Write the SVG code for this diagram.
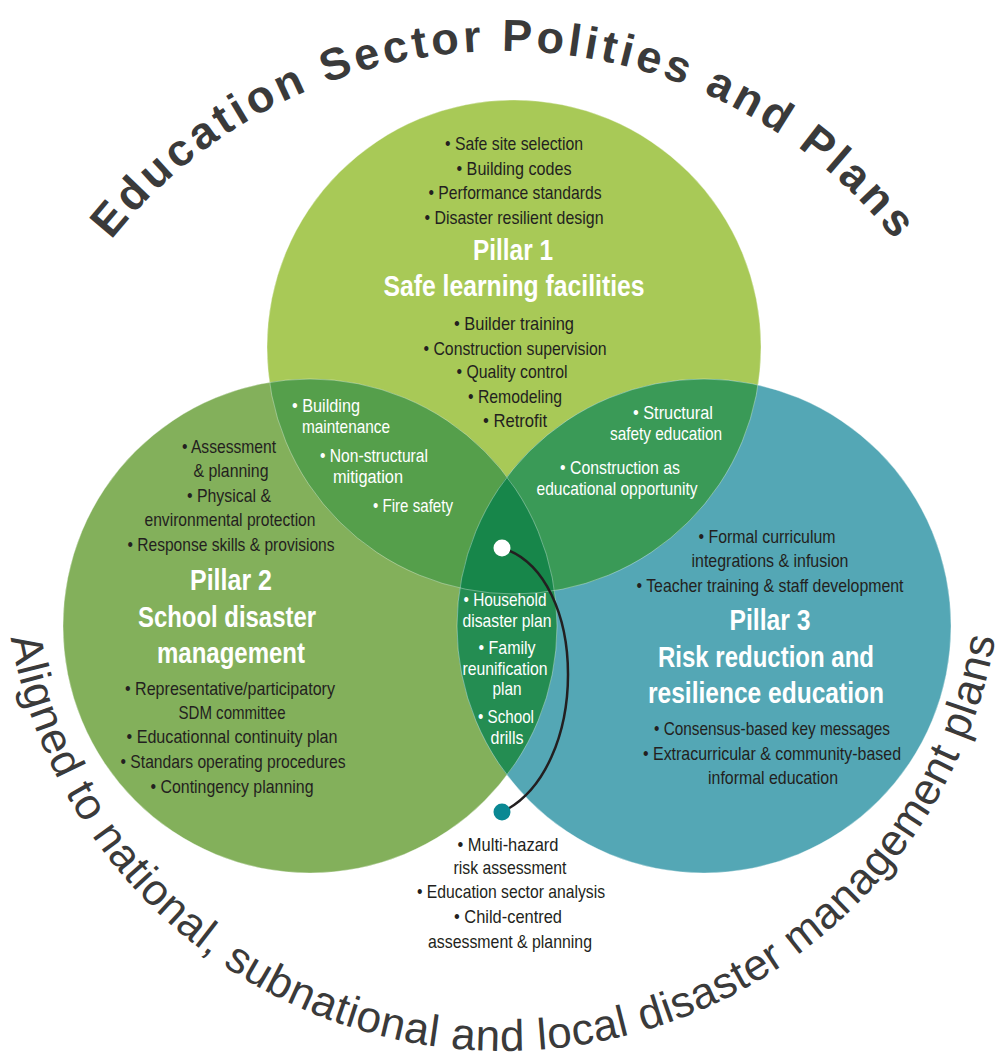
<svg xmlns="http://www.w3.org/2000/svg" width="1000" height="1055" viewBox="0 0 1000 1055">
<style>
.t{font-family:"Liberation Sans",Arial,sans-serif;font-size:19px;text-anchor:middle}
.d{fill:#231f20}
.w{fill:#ffffff}
.h{font-family:"Liberation Sans",Arial,sans-serif;font-size:30px;font-weight:bold;fill:#ffffff;text-anchor:middle}
.edge{fill:none;stroke:#ffffff;stroke-opacity:0.35;stroke-width:1}
.arcT{font-family:"Liberation Sans",Arial,sans-serif;font-weight:bold;font-size:45px;fill:#3a3a3a}
.arcB{font-family:"Liberation Sans",Arial,sans-serif;font-size:44px;fill:#3a3a3a}
</style>
<defs>
<clipPath id="c1"><circle cx="514" cy="347" r="247"/></clipPath>
<clipPath id="c2"><circle cx="310" cy="626" r="247"/></clipPath>
<clipPath id="c3"><circle cx="704" cy="626" r="247"/></clipPath>
<path id="topArc" d="M 3 551 A 500 500 0 0 1 1003 551"/>
<path id="botArc" d="M 53 333 A 500 500 0 1 0 953 333"/>
</defs>

<g id="circles">
<circle cx="514" cy="347" r="247" fill="#a8c957"/>
<circle cx="310" cy="626" r="247" fill="#83b05b"/>
<circle cx="704" cy="626" r="247" fill="#54a7b5"/>
<circle cx="310" cy="626" r="247" fill="#559f4b" clip-path="url(#c1)"/>
<circle cx="704" cy="626" r="247" fill="#3a9a57" clip-path="url(#c1)"/>
<circle cx="704" cy="626" r="247" fill="#248d52" clip-path="url(#c2)"/>
<g clip-path="url(#c1)"><circle cx="704" cy="626" r="247" fill="#17864a" clip-path="url(#c2)"/></g>
<circle class="edge" cx="514" cy="347" r="247"/>
<circle class="edge" cx="310" cy="626" r="247"/>
<circle class="edge" cx="704" cy="626" r="247"/>
</g>

<g id="title-top">
<text class="arcT"><textPath href="#topArc" startOffset="50%" text-anchor="middle" textLength="900" lengthAdjust="spacing">Education Sector Polities and Plans</textPath></text>
</g>
<g id="title-bottom">
<text class="arcB"><textPath href="#botArc" startOffset="50%" text-anchor="middle" textLength="1396" lengthAdjust="spacing">Aligned to national, subnational and local disaster management plans</textPath></text>
</g>

<g id="pillar1">
<text class="t d" x="514" y="150" textLength="138" lengthAdjust="spacingAndGlyphs">• Safe site selection</text>
<text class="t d" x="514" y="175" textLength="115" lengthAdjust="spacingAndGlyphs">• Building codes</text>
<text class="t d" x="515" y="199" textLength="173" lengthAdjust="spacingAndGlyphs">• Performance standards</text>
<text class="t d" x="514" y="224" textLength="179" lengthAdjust="spacingAndGlyphs">• Disaster resilient design</text>
<text class="h" x="513" y="260" textLength="80" lengthAdjust="spacingAndGlyphs">Pillar 1</text>
<text class="h" x="514" y="296" textLength="261" lengthAdjust="spacingAndGlyphs">Safe learning facilities</text>
<text class="t d" x="514" y="330" textLength="120" lengthAdjust="spacingAndGlyphs">• Builder training</text>
<text class="t d" x="515" y="355" textLength="183" lengthAdjust="spacingAndGlyphs">• Construction supervision</text>
<text class="t d" x="512" y="378" textLength="111" lengthAdjust="spacingAndGlyphs">• Quality control</text>
<text class="t d" x="515" y="403" textLength="94" lengthAdjust="spacingAndGlyphs">• Remodeling</text>
<text class="t d" x="515" y="427" textLength="64" lengthAdjust="spacingAndGlyphs">• Retrofit</text>
</g>

<g id="pillar2">
<text class="t d" x="229" y="453" textLength="94" lengthAdjust="spacingAndGlyphs">• Assessment</text>
<text class="t d" x="231" y="477" textLength="75" lengthAdjust="spacingAndGlyphs">&amp; planning</text>
<text class="t d" x="229" y="502" textLength="84" lengthAdjust="spacingAndGlyphs">• Physical &amp;</text>
<text class="t d" x="230" y="526" textLength="171" lengthAdjust="spacingAndGlyphs">environmental protection</text>
<text class="t d" x="231" y="551" textLength="207" lengthAdjust="spacingAndGlyphs">• Response skills &amp; provisions</text>
<text class="h" x="231" y="590" textLength="82" lengthAdjust="spacingAndGlyphs">Pillar 2</text>
<text class="h" x="227" y="627" textLength="178" lengthAdjust="spacingAndGlyphs">School disaster</text>
<text class="h" x="231" y="663" textLength="148" lengthAdjust="spacingAndGlyphs">management</text>
<text class="t d" x="230" y="695" textLength="210" lengthAdjust="spacingAndGlyphs">• Representative/participatory</text>
<text class="t d" x="232" y="719" textLength="107" lengthAdjust="spacingAndGlyphs">SDM committee</text>
<text class="t d" x="232" y="743" textLength="211" lengthAdjust="spacingAndGlyphs">• Educationnal continuity plan</text>
<text class="t d" x="233" y="768" textLength="225" lengthAdjust="spacingAndGlyphs">• Standars operating procedures</text>
<text class="t d" x="232" y="793" textLength="163" lengthAdjust="spacingAndGlyphs">• Contingency planning</text>
</g>

<g id="pillar3">
<text class="t d" x="767" y="543" textLength="137" lengthAdjust="spacingAndGlyphs">• Formal curriculum</text>
<text class="t d" x="770" y="567" textLength="157" lengthAdjust="spacingAndGlyphs">integrations &amp; infusion</text>
<text class="t d" x="770" y="592" textLength="267" lengthAdjust="spacingAndGlyphs">• Teacher training &amp; staff development</text>
<text class="h" x="770" y="630" textLength="81" lengthAdjust="spacingAndGlyphs">Pillar 3</text>
<text class="h" x="766" y="667" textLength="216" lengthAdjust="spacingAndGlyphs">Risk reduction and</text>
<text class="h" x="766" y="703" textLength="236" lengthAdjust="spacingAndGlyphs">resilience education</text>
<text class="t d" x="772" y="735" textLength="236" lengthAdjust="spacingAndGlyphs">• Consensus-based key messages</text>
<text class="t d" x="772" y="760" textLength="258" lengthAdjust="spacingAndGlyphs">• Extracurricular &amp; community-based</text>
<text class="t d" x="773" y="784" textLength="130" lengthAdjust="spacingAndGlyphs">informal education</text>
</g>

<g id="overlap-1-2">
<text class="t w" x="326" y="412" textLength="68" lengthAdjust="spacingAndGlyphs">• Building</text>
<text class="t w" x="346" y="433" textLength="88" lengthAdjust="spacingAndGlyphs">maintenance</text>
<text class="t w" x="374" y="462" textLength="108" lengthAdjust="spacingAndGlyphs">• Non-structural</text>
<text class="t w" x="368" y="483" textLength="70" lengthAdjust="spacingAndGlyphs">mitigation</text>
<text class="t w" x="413" y="512" textLength="80" lengthAdjust="spacingAndGlyphs">• Fire safety</text>
</g>

<g id="overlap-1-3">
<text class="t w" x="673" y="419" textLength="80" lengthAdjust="spacingAndGlyphs">• Structural</text>
<text class="t w" x="666" y="440" textLength="112" lengthAdjust="spacingAndGlyphs">safety education</text>
<text class="t w" x="620" y="474" textLength="120" lengthAdjust="spacingAndGlyphs">• Construction as</text>
<text class="t w" x="617" y="495" textLength="161" lengthAdjust="spacingAndGlyphs">educational opportunity</text>
</g>

<g id="overlap-2-3">
<text class="t w" x="505" y="606" textLength="83" lengthAdjust="spacingAndGlyphs">• Household</text>
<text class="t w" x="507" y="627" textLength="89" lengthAdjust="spacingAndGlyphs">disaster plan</text>
<text class="t w" x="507" y="654" textLength="57" lengthAdjust="spacingAndGlyphs">• Family</text>
<text class="t w" x="505" y="675" textLength="85" lengthAdjust="spacingAndGlyphs">reunification</text>
<text class="t w" x="507" y="695" textLength="29" lengthAdjust="spacingAndGlyphs">plan</text>
<text class="t w" x="506" y="723" textLength="56" lengthAdjust="spacingAndGlyphs">• School</text>
<text class="t w" x="507" y="744" textLength="33" lengthAdjust="spacingAndGlyphs">drills</text>
</g>

<g id="connectors">
<path d="M 502 548 C 590 575 590 770 502 812" fill="none" stroke="#231f20" stroke-width="2.5"/>
<circle cx="502" cy="548" r="8.5" fill="#ffffff"/>
<circle cx="502" cy="812" r="8.5" fill="#0a8893"/>
</g>

<g id="assessment">
<text class="t d" x="508" y="851" textLength="101" lengthAdjust="spacingAndGlyphs">• Multi-hazard</text>
<text class="t d" x="510" y="874" textLength="113" lengthAdjust="spacingAndGlyphs">risk assessment</text>
<text class="t d" x="511" y="898" textLength="188" lengthAdjust="spacingAndGlyphs">• Education sector analysis</text>
<text class="t d" x="508" y="923" textLength="108" lengthAdjust="spacingAndGlyphs">• Child-centred</text>
<text class="t d" x="510" y="948" textLength="164" lengthAdjust="spacingAndGlyphs">assessment &amp; planning</text>
</g>
</svg>
